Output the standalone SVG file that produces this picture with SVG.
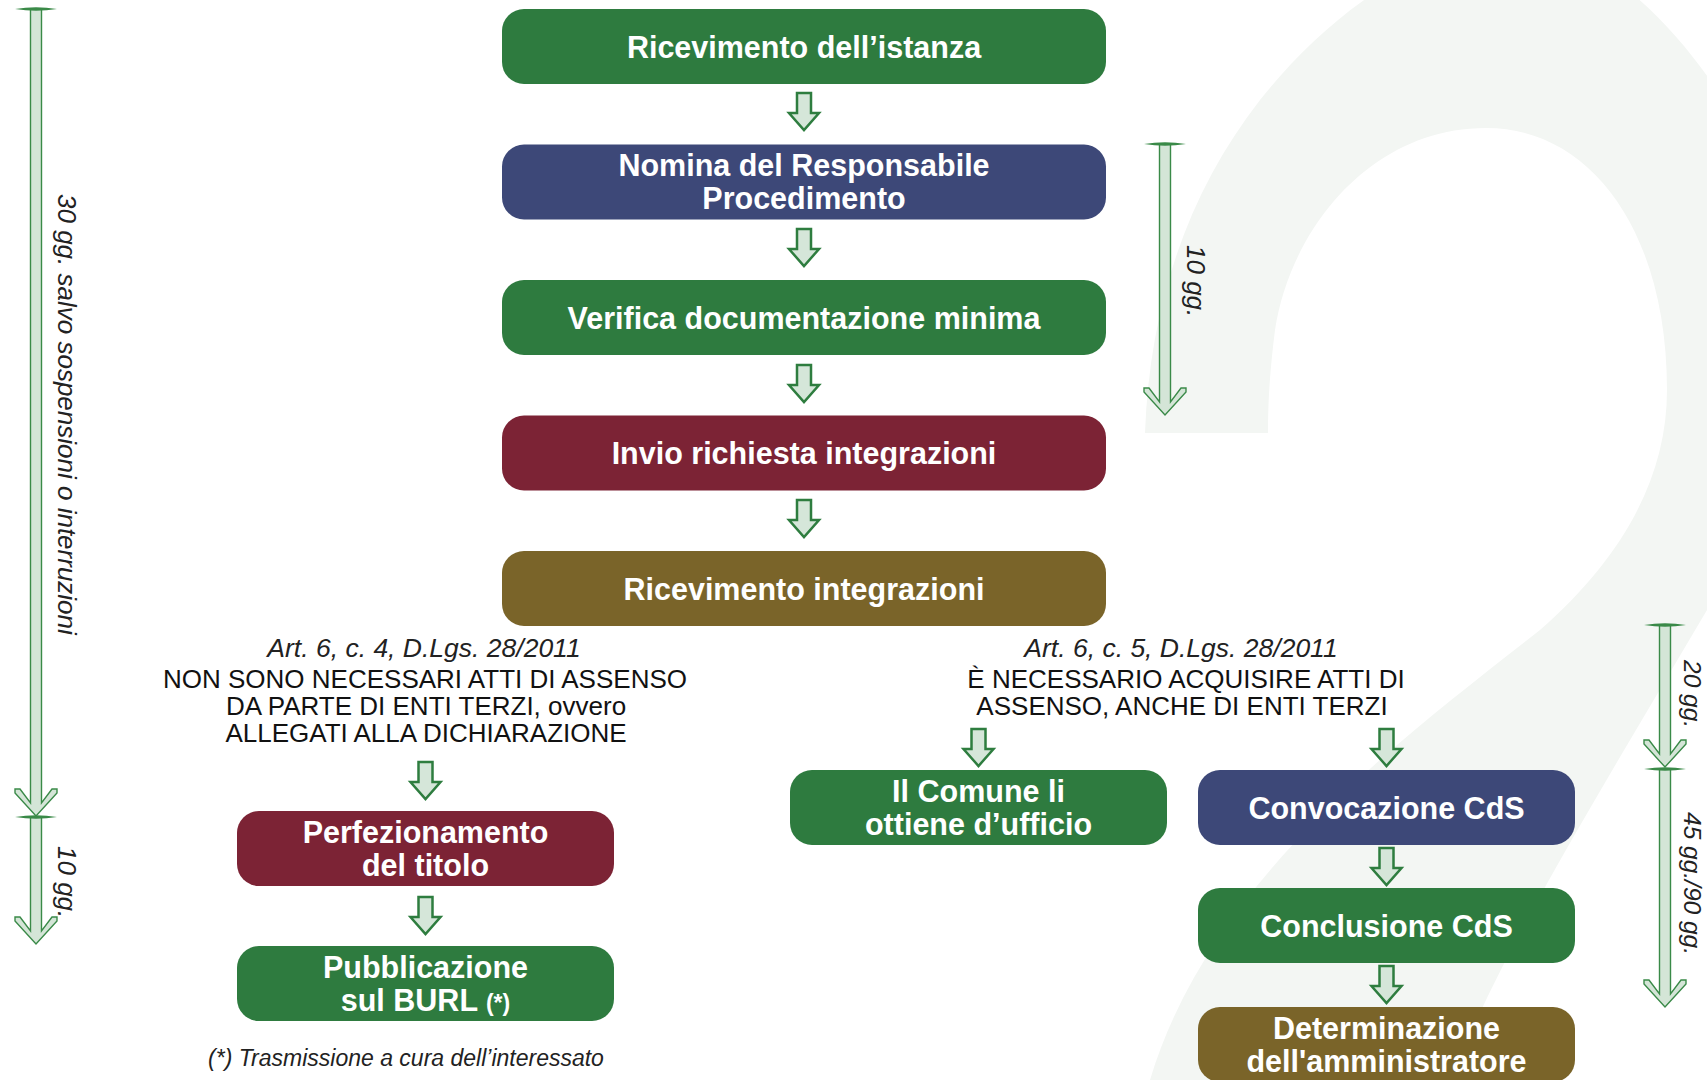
<svg xmlns="http://www.w3.org/2000/svg" xmlns:xlink="http://www.w3.org/1999/xlink" width="1707" height="1080" viewBox="0 0 1707 1080">
  <style>
    .box { stroke: none; }
    .green { fill: #2e7b3f; }
    .blue { fill: #3d4878; }
    .red { fill: #7c2335; }
    .olive { fill: #7a6429; }
    .lbl { font-family: "Liberation Sans", Arial, sans-serif; font-weight: bold; font-size: 30.5px; fill: #ffffff; text-anchor: middle; }
    .note { font-family: "Liberation Sans", Arial, sans-serif; font-size: 26px; fill: #111111; text-anchor: middle; }
    .law { font-family: "Liberation Sans", Arial, sans-serif; font-style: italic; font-size: 26.5px; fill: #222222; text-anchor: middle; }
    .foot { font-family: "Liberation Sans", Arial, sans-serif; font-style: italic; font-size: 23px; fill: #222222; text-anchor: middle; }
    .days { font-family: "Liberation Sans", Arial, sans-serif; font-style: italic; font-size: 26px; fill: #222222; }
    .days-edge { font-family: "Liberation Sans", Arial, sans-serif; font-style: italic; font-size: 24.5px; fill: #222222; }
    .flow { fill: #d5e6d9; stroke: #2e7d3f; stroke-width: 2.5; stroke-linejoin: miter; }
    .span { fill: #d4e5d7; stroke: #3a8a48; stroke-width: 1.4; stroke-linejoin: miter; }
    .cap { fill: #3a8a48; }
  </style>
  <defs>
    <!-- short downward block arrow between steps -->
    <path id="flow-arrow" class="flow" d="M -7 0 H 7 V 20 H 15 L 0 37 L -15 20 H -7 Z"/>
    <!-- tapered start bar of a duration arrow -->
    <path id="span-cap" class="cap" d="M -21 0 Q 0 -3.6 21 0 Q 0 3.6 -21 0 Z"/>
  </defs>

  <rect width="1707" height="1080" fill="#ffffff"/>

  <!-- large faint numeral in the background -->
  <path id="watermark" fill="#f3f6f3" d="M 1145 433 C 1150 300, 1190 190, 1260 100 C 1320 25, 1400 -40, 1500 -60 C 1600 -60, 1680 30, 1730 110 C 1800 230, 1790 480, 1707 610 L 1620 757 C 1560 860, 1500 960, 1450 1080 L 1150 1080 C 1210 880, 1400 740, 1540 630 C 1620 560, 1667 480, 1667 390 C 1667 230, 1590 128, 1486 128 C 1370 128, 1290 230, 1275 330 C 1270 370, 1268 400, 1268 433 Z"/>

  <!-- duration arrows -->
  <g id="timelines">
    <!-- left: 30 days + 10 days -->
    <path class="span" d="M 30.5 9 V 803 L 20 789 H 15 V 793 L 36 816 L 57 793 V 789 H 52 L 41.5 803 V 9 Z"/>
    <use xlink:href="#span-cap" x="36" y="9"/>
    <path class="span" d="M 30.5 817 V 931 L 20 917 H 15 V 921 L 36 944 L 57 921 V 917 H 52 L 41.5 931 V 817 Z"/>
    <use xlink:href="#span-cap" x="36" y="817"/>
    <text class="days" transform="translate(58 194) rotate(90)">30 gg. salvo sospensioni o interruzioni</text>
    <text class="days" transform="translate(58 846) rotate(90)">10 gg.</text>

    <!-- centre: 10 days -->
    <path class="span" d="M 1159.5 144 V 402 L 1149 388 H 1144 V 392 L 1165 415 L 1186 392 V 388 H 1181 L 1170.5 402 V 144 Z"/>
    <use xlink:href="#span-cap" x="1165" y="144"/>
    <text class="days" transform="translate(1187 245) rotate(90)">10 gg.</text>

    <!-- right: 20 days + 45/90 days -->
    <path class="span" d="M 1659.5 625 V 754 L 1649 740 H 1644 V 744 L 1665 767 L 1686 744 V 740 H 1681 L 1670.5 754 V 625 Z"/>
    <use xlink:href="#span-cap" x="1665" y="625"/>
    <path class="span" d="M 1659.5 769 V 994 L 1649 980 H 1644 V 984 L 1665 1007 L 1686 984 V 980 H 1681 L 1670.5 994 V 769 Z"/>
    <use xlink:href="#span-cap" x="1665" y="769"/>
    <text class="days-edge" transform="translate(1684 660) rotate(90)">20 gg.</text>
    <text class="days-edge" transform="translate(1684 812) rotate(90)">45 gg./90 gg.</text>
  </g>

  <!-- step-to-step connectors -->
  <g id="connectors">
    <use xlink:href="#flow-arrow" x="804" y="93"/>
    <use xlink:href="#flow-arrow" x="804" y="229"/>
    <use xlink:href="#flow-arrow" x="804" y="365"/>
    <use xlink:href="#flow-arrow" x="804" y="500"/>
    <use xlink:href="#flow-arrow" x="425.5" y="762"/>
    <use xlink:href="#flow-arrow" x="425.5" y="897"/>
    <use xlink:href="#flow-arrow" x="978.5" y="729"/>
    <use xlink:href="#flow-arrow" x="1386.5" y="729"/>
    <use xlink:href="#flow-arrow" x="1386.5" y="848"/>
    <use xlink:href="#flow-arrow" x="1386.5" y="966"/>
  </g>

  <!-- main sequence -->
  <g id="ricevimento-istanza">
    <rect class="box green" x="502" y="9" width="604" height="75" rx="22"/>
    <text class="lbl" x="804" y="57.5">Ricevimento dell’istanza</text>
  </g>
  <g id="nomina-responsabile">
    <rect class="box blue" x="502" y="144.5" width="604" height="75" rx="22"/>
    <text class="lbl" x="804" y="176">Nomina del Responsabile</text>
    <text class="lbl" x="804" y="209">Procedimento</text>
  </g>
  <g id="verifica-documentazione">
    <rect class="box green" x="502" y="280" width="604" height="75" rx="22"/>
    <text class="lbl" x="804" y="328.5">Verifica documentazione minima</text>
  </g>
  <g id="invio-richiesta">
    <rect class="box red" x="502" y="415.5" width="604" height="75" rx="22"/>
    <text class="lbl" x="804" y="464">Invio richiesta integrazioni</text>
  </g>
  <g id="ricevimento-integrazioni">
    <rect class="box olive" x="502" y="551" width="604" height="75" rx="22"/>
    <text class="lbl" x="804" y="599.5">Ricevimento integrazioni</text>
  </g>

  <!-- branch conditions -->
  <g id="ramo-c4">
    <text class="law" x="424" y="657">Art. 6, c. 4, D.Lgs. 28/2011</text>
    <text class="note" x="425" y="688">NON SONO NECESSARI ATTI DI ASSENSO</text>
    <text class="note" x="426" y="715">DA PARTE DI ENTI TERZI, ovvero</text>
    <text class="note" x="426" y="742">ALLEGATI ALLA DICHIARAZIONE</text>
  </g>
  <g id="ramo-c5">
    <text class="law" x="1181" y="657">Art. 6, c. 5, D.Lgs. 28/2011</text>
    <text class="note" x="1186" y="688">È NECESSARIO ACQUISIRE ATTI DI</text>
    <text class="note" x="1182" y="715">ASSENSO, ANCHE DI ENTI TERZI</text>
  </g>

  <!-- left branch -->
  <g id="perfezionamento-titolo">
    <rect class="box red" x="237" y="811" width="377" height="75" rx="22"/>
    <text class="lbl" x="425.5" y="843">Perfezionamento</text>
    <text class="lbl" x="425.5" y="876">del titolo</text>
  </g>
  <g id="pubblicazione-burl">
    <rect class="box green" x="237" y="946" width="377" height="75" rx="22"/>
    <text class="lbl" x="425.5" y="978">Pubblicazione</text>
    <text class="lbl" x="425.5" y="1011">sul BURL <tspan font-size="23px">(*)</tspan></text>
  </g>
  <text id="nota-burl" class="foot" x="406" y="1066">(*) Trasmissione a cura dell’interessato</text>

  <!-- right branch -->
  <g id="comune-ufficio">
    <rect class="box green" x="790" y="770" width="377" height="75" rx="22"/>
    <text class="lbl" x="978.5" y="802">Il Comune li</text>
    <text class="lbl" x="978.5" y="835">ottiene d’ufficio</text>
  </g>
  <g id="convocazione-cds">
    <rect class="box blue" x="1198" y="770" width="377" height="75" rx="22"/>
    <text class="lbl" x="1386.5" y="818.5">Convocazione CdS</text>
  </g>
  <g id="conclusione-cds">
    <rect class="box green" x="1198" y="888" width="377" height="75" rx="22"/>
    <text class="lbl" x="1386.5" y="936.5">Conclusione CdS</text>
  </g>
  <g id="determinazione-amministratore">
    <rect class="box olive" x="1198" y="1007" width="377" height="75" rx="22"/>
    <text class="lbl" x="1386.5" y="1039">Determinazione</text>
    <text class="lbl" x="1386.5" y="1072">dell'amministratore</text>
  </g>
</svg>
